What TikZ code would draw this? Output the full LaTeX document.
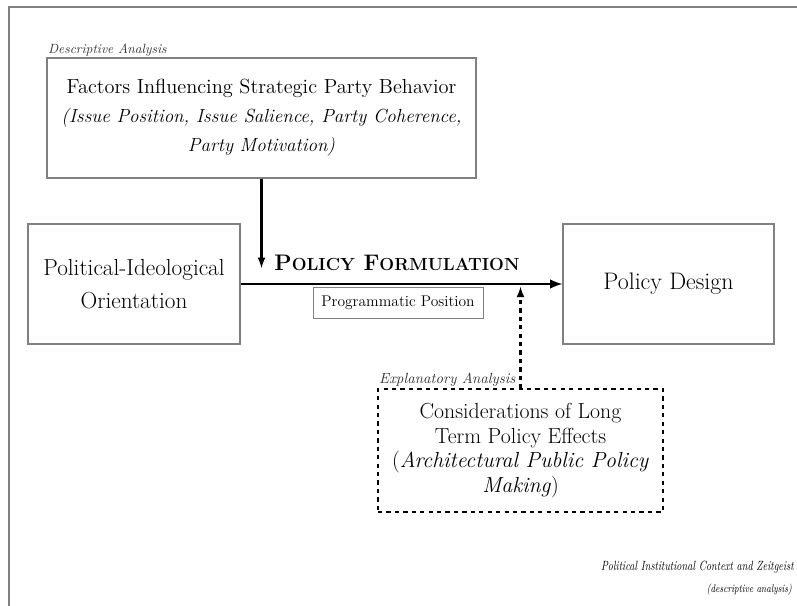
\documentclass[tikz,border=0pt]{standalone}
\usepackage{tikz}
\usetikzlibrary{positioning,arrows}

\begin{document}
\begin{tikzpicture}[
	box/.style={rectangle, draw=gray, thick, text centered, text=black, align=center},
	dbox/.style={rectangle, draw=black, thick, dashed, text centered, text=black, align=center},
	tag/.style={font=\fontsize{9.5}{11}\selectfont\itshape, inner sep=1pt, text=black!80},
	link/.style={-latex, black, line width=1.5pt}
]

\useasboundingbox (0,0) rectangle (19.925,-15.125);
\draw [gray, thick] (0.225,-15.4) -- (0.225,-0.175) -- (20.2,-0.175);

\node [box, minimum width=10.725cm, minimum height=3cm, font=\fontsize{14.5}{20.5}\selectfont] (Factors) at (6.5375,-2.95)
	{Factors Influencing Strategic Party Behavior\\
	 {\fontsize{13.5}{20.5}\selectfont\itshape (Issue Position, Issue Salience, Party Coherence,}\\
	 {\fontsize{13.5}{20.5}\selectfont\itshape Party Motivation)}};
\node [tag, anchor=south west] (FactorsTag) at (Factors.north west) {Descriptive Analysis};

\node [box, minimum width=5.3cm, minimum height=3cm, font=\fontsize{16.5}{23}\selectfont] (Ideology) at (3.35,-7.1)
	{Political-Ideological\\ Orientation};
\node [box, minimum width=5.275cm, minimum height=3cm, font=\fontsize{17}{23}\selectfont] (Design) at (16.7125,-7.1)
	{Policy Design};

\node [font=\fontsize{16}{18}\selectfont\bfseries, inner sep=1pt] (Formulation) at (9.925,-6.575)
	{P{\fontsize{12.5}{14}\selectfont OLICY} F{\fontsize{12.5}{14}\selectfont ORMULATION}};
\node [box, thin, minimum width=4.25cm, minimum height=0.775cm, font=\fontsize{11}{13}\selectfont] (Position) at (9.95,-7.5625)
	{Programmatic Position};

\node [dbox, minimum width=7.125cm, minimum height=3.075cm, font=\fontsize{15.5}{17.5}\selectfont] (Effects) at (13.0125,-11.2625)
	{Considerations of Long\\ Term Policy Effects\\ (\textit{Architectural Public Policy}\\ \textit{Making})};
\node [tag, font=\fontsize{10.5}{12}\selectfont\itshape, anchor=south west] (EffectsTag) at (Effects.north west) {Explanatory Analysis};

% arrows
\coordinate (Drop) at (Factors.south |- 0,-6.7);
\coordinate (Rise) at (Effects.north |- 0,-7.17);
\draw [link, line width=2pt] (Ideology) -- (Design);
\draw [link] (Factors.south) -- (Drop);
\draw [link, dashed] (Effects.north) -- (Rise);

% context
\node [anchor=east, inner sep=1pt, transform shape, xscale=0.76, font=\fontsize{9.5}{11}\selectfont\itshape] (Context) at (19.875,-14.175)
	{Political Institutional Context and Zeitgeist};
\node [anchor=east, inner sep=1pt, transform shape, xscale=0.76, font=\fontsize{8}{9}\selectfont\itshape] (ContextNote) at (19.83,-14.75)
	{(descriptive analysis)};

\end{tikzpicture}
\end{document}
